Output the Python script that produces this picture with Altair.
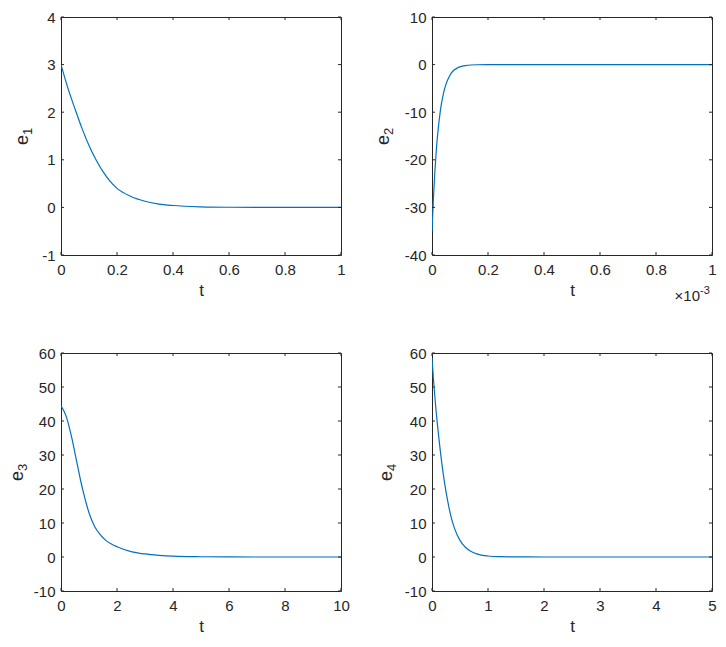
import altair as alt
import pandas as pd

# ---- data ----
t1 = [0, 0.025, 0.05, 0.075, 0.1, 0.125, 0.15, 0.175, 0.2, 0.25, 0.3, 0.35, 0.4, 0.5, 0.6, 0.8, 1.0]
e1 = [3.0, 2.5, 2.07, 1.66, 1.30, 1.0, 0.75, 0.55, 0.40, 0.23, 0.13, 0.07, 0.04, 0.012, 0.003, 0.0, 0.0]

t2 = [0, 0.005, 0.01, 0.015, 0.02, 0.03, 0.04, 0.05, 0.06, 0.07, 0.08, 0.09, 0.1, 0.12, 0.14, 0.16, 0.2, 0.3, 0.5, 1.0]
e2 = [-35, -28.2, -22.7, -18.3, -14.8, -9.6, -6.3, -4.1, -2.7, -1.7, -1.1, -0.73, -0.47, -0.2, -0.08, -0.03, 0, 0, 0, 0]

t3 = [0, 0.1, 0.2, 0.3, 0.4, 0.5, 0.6, 0.7, 0.8, 0.9, 1.0, 1.2, 1.4, 1.6, 1.8, 2.0, 2.5, 3.0, 3.5, 4.0, 5.0, 6.0, 8.0, 10.0]
e3 = [44.5, 43, 41, 38, 34.5, 30.5, 26.5, 22.5, 19, 15.8, 13, 9.0, 6.6, 4.9, 3.8, 3.0, 1.6, 0.9, 0.5, 0.25, 0.08, 0.02, 0, 0]

t4 = [0, 0.025, 0.05, 0.1, 0.15, 0.2, 0.25, 0.3, 0.35, 0.4, 0.5, 0.6, 0.7, 0.8, 0.9, 1.0, 1.2, 1.5, 2, 3, 5]
e4 = [58.5, 52.5, 47.3, 38.5, 31, 24.5, 19.2, 14.8, 11.2, 8.5, 4.9, 2.8, 1.6, 0.9, 0.5, 0.3, 0.1, 0.03, 0, 0, 0]

x1_ticks = [0, 0.2, 0.4, 0.6, 0.8, 1]
y1_ticks = [-1, 0, 1, 2, 3, 4]
x2_ticks = [0, 0.2, 0.4, 0.6, 0.8, 1]
y2_ticks = [-40, -30, -20, -10, 0, 10]
x3_ticks = [0, 2, 4, 6, 8, 10]
y3_ticks = [-10, 0, 10, 20, 30, 40, 50, 60]
x4_ticks = [0, 1, 2, 3, 4, 5]
y4_ticks = [-10, 0, 10, 20, 30, 40, 50, 60]

W, H = 280, 238
TICK = 3
INK = "#262626"
BLUE = "#0072BD"
FONT = "Liberation Sans"


def panel(t, v, xticks, yticks, sub, title_x, exponent=False):
    xdom = [xticks[0], xticks[-1]]
    ydom = [yticks[0], yticks[-1]]
    xs = alt.Scale(domain=xdom, nice=False, zero=False)
    ys = alt.Scale(domain=ydom, nice=False, zero=False)
    df = pd.DataFrame({"t": t, "v": v})
    line = alt.Chart(df).mark_line(color=BLUE, strokeWidth=1.2, interpolate="monotone", clip=True).encode(
        x=alt.X("t:Q", scale=xs,
                axis=alt.Axis(values=xticks, tickCount=len(xticks), title="t",
                              labelExpr="datum.value + ''")),
        y=alt.Y("v:Q", scale=ys,
                axis=alt.Axis(values=yticks, tickCount=len(yticks), title="",
                              labelExpr="datum.value + ''")),
    )
    xt = pd.DataFrame({"t": xticks})
    yt = pd.DataFrame({"v": yticks})
    tb = alt.Chart(xt).mark_rule(color=INK, strokeWidth=1).encode(
        x=alt.X("t:Q", scale=xs), y=alt.value(H), y2=alt.value(H - TICK))
    tt = alt.Chart(xt).mark_rule(color=INK, strokeWidth=1).encode(
        x=alt.X("t:Q", scale=xs), y=alt.value(0), y2=alt.value(TICK))
    tl = alt.Chart(yt).mark_rule(color=INK, strokeWidth=1).encode(
        y=alt.Y("v:Q", scale=ys), x=alt.value(0), x2=alt.value(TICK))
    tr = alt.Chart(yt).mark_rule(color=INK, strokeWidth=1).encode(
        y=alt.Y("v:Q", scale=ys), x=alt.value(W), x2=alt.value(W - TICK))
    # y-axis title "e" with subscript, drawn as rotated text
    te = alt.Chart(pd.DataFrame({"label": ["e"]})).mark_text(
        angle=270, align="center", baseline="alphabetic", font=FONT, fontSize=18, color=INK
    ).encode(text="label:N", x=alt.value(title_x), y=alt.value(H / 2 + 4))
    ts = alt.Chart(pd.DataFrame({"label": [sub]})).mark_text(
        angle=270, align="left", baseline="alphabetic", font=FONT, fontSize=13, color=INK
    ).encode(text="label:N", x=alt.value(title_x + 4), y=alt.value(H / 2 - 1))
    layers = [line, tb, tt, tl, tr, te, ts]
    if exponent:
        ex = pd.DataFrame({"label": ["×10"]})
        ep = pd.DataFrame({"label": ["-3"]})
        m1 = alt.Chart(ex).mark_text(align="right", baseline="alphabetic", font=FONT,
                                     fontSize=15, color=INK).encode(
            text="label:N", x=alt.value(W - 12), y=alt.value(H + 46))
        m2 = alt.Chart(ep).mark_text(align="left", baseline="alphabetic", font=FONT,
                                     fontSize=11, color=INK).encode(
            text="label:N", x=alt.value(W - 12), y=alt.value(H + 39))
        layers += [m1, m2]
    return alt.layer(*layers).properties(width=W, height=H)


p1 = panel(t1, e1, x1_ticks, y1_ticks, "1", -33)
p2 = panel(t2, e2, x2_ticks, y2_ticks, "2", -43, exponent=True)
p3 = panel(t3, e3, x3_ticks, y3_ticks, "3", -38)
p4 = panel(t4, e4, x4_ticks, y4_ticks, "4", -40)

chart = alt.concat(p1, p2, p3, p4, columns=2, spacing={"row": 40, "column": 24}).properties(
    padding={"top": 1, "left": 0, "right": 0, "bottom": 0}
).configure_view(
    stroke=INK, strokeWidth=1
).configure_axis(
    ticks=False, domain=False, grid=False, labelOverlap=False, labelFlush=False,
    labelFont=FONT, labelFontSize=15, labelColor=INK, labelPadding=7,
    titleFont=FONT, titleFontSize=17, titleFontWeight="normal", titleColor=INK,
).configure_axisX(
    titlePadding=5
).configure_axisY(
    labelPadding=6
)

chart.save("out.html", embed_options={"renderer": "svg", "actions": False})
